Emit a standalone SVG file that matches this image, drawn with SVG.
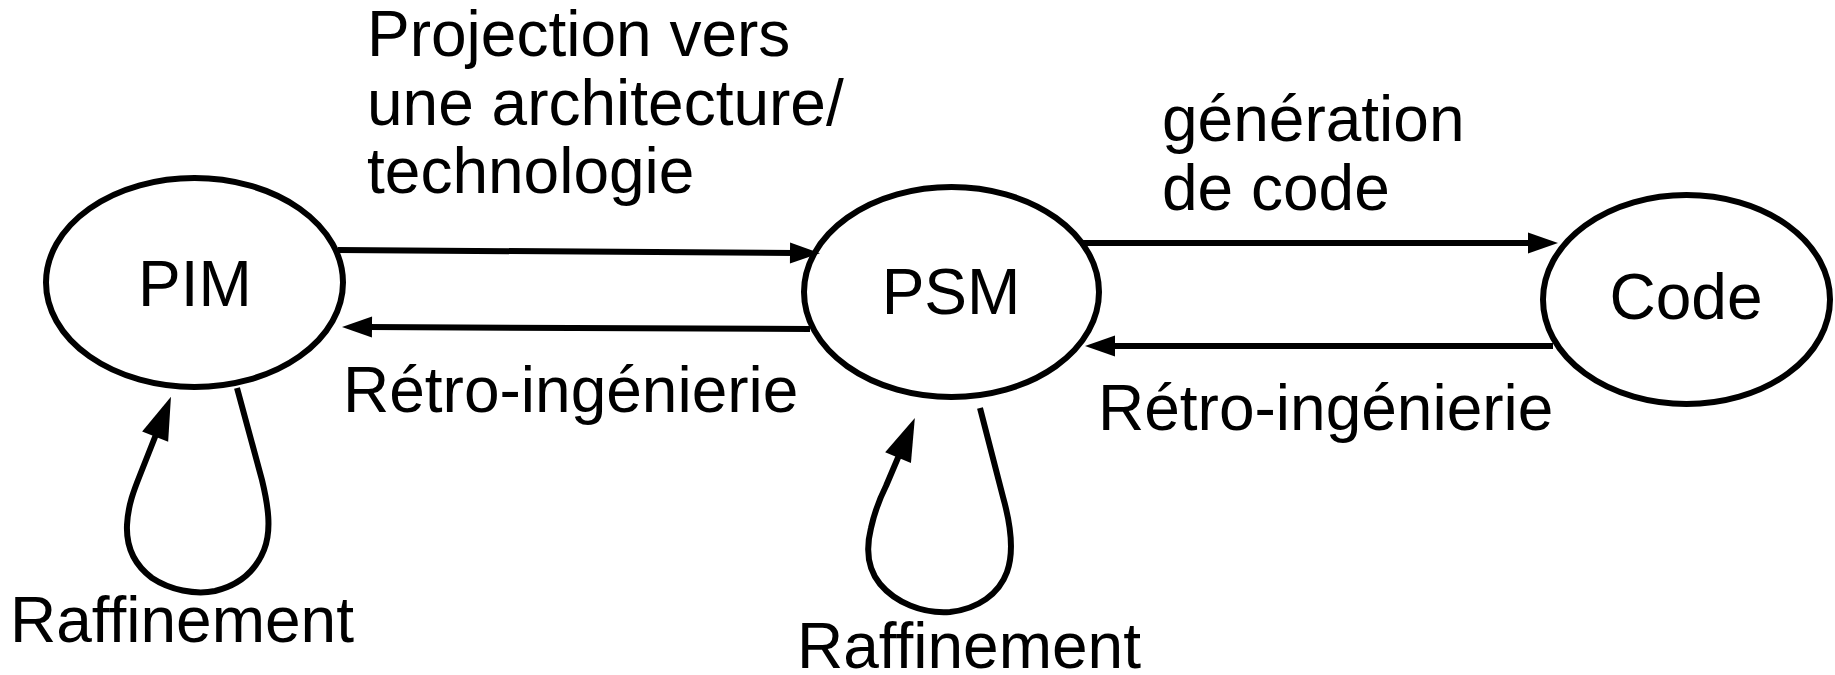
<svg xmlns="http://www.w3.org/2000/svg" width="1835" height="675" viewBox="0 0 1835 675">
<style>
text { font-family: "Liberation Sans", Arial, sans-serif; font-size: 64px; fill: #000; }
.node { fill: #fff; stroke: #000; stroke-width: 6; }
.lbl { text-anchor: middle; }
.edge { fill: none; stroke: #000; stroke-width: 6; }
.h { marker-end: url(#ah); }
.l { marker-end: url(#al); stroke-linejoin: round; }
</style>
<defs>
<marker id="ah" markerUnits="userSpaceOnUse" markerWidth="30" markerHeight="21" refX="5" refY="10.5" orient="auto" overflow="visible">
<path d="M0,0 L30,10.5 L0,21 Z" fill="#000"/>
</marker>
<marker id="al" markerUnits="userSpaceOnUse" markerWidth="43" markerHeight="28" refX="5" refY="14" orient="auto" overflow="visible">
<path d="M0,0 L43,14 L0,28 Z" fill="#000"/>
</marker>
</defs>
<rect width="1835" height="675" fill="#fff"/>
<g id="pim">
<ellipse class="node" cx="194.5" cy="282.5" rx="148.5" ry="104.5"/>
<text class="lbl" x="195" y="306">PIM</text>
</g>
<g id="psm">
<ellipse class="node" cx="951.5" cy="292" rx="147.5" ry="105"/>
<text class="lbl" x="951" y="314">PSM</text>
</g>
<g id="code">
<ellipse class="node" cx="1686.5" cy="299.5" rx="143.5" ry="104.5"/>
<text class="lbl" x="1686" y="319">Code</text>
</g>
<g id="connectors">
<path class="edge h" d="M338,250 L795,253"/>
<path class="edge h" d="M810,329 L367,327"/>
<path class="edge h" d="M1080,243 L1533,243"/>
<path class="edge h" d="M1553,346 L1110,346"/>
<path class="edge l" d="M237,388 L262,480 C268,505 272,530 264,550 C256,570 240,585 215,591 C195,595 170,590 152,578 C136,566 126,548 127,525 C128,505 134,490 140,475 L157,432"/>
<path class="edge l" d="M980,408 L1003,497 C1010,522 1015,550 1007,572 C999,594 978,609 950,612 C922,614 895,602 880,584 C867,568 866,548 871,528 C875,510 880,498 886,486 L900,453"/>
</g>
<g id="labels">
<text x="367" y="56">Projection vers</text>
<text x="367" y="125">une architecture/</text>
<text x="367" y="193">technologie</text>
<text x="1162" y="141">génération</text>
<text x="1162" y="210">de code</text>
<text x="343" y="412">Rétro-ingénierie</text>
<text x="1098" y="430">Rétro-ingénierie</text>
<text x="10" y="642">Raffinement</text>
<text x="797" y="668">Raffinement</text>
</g>
</svg>
